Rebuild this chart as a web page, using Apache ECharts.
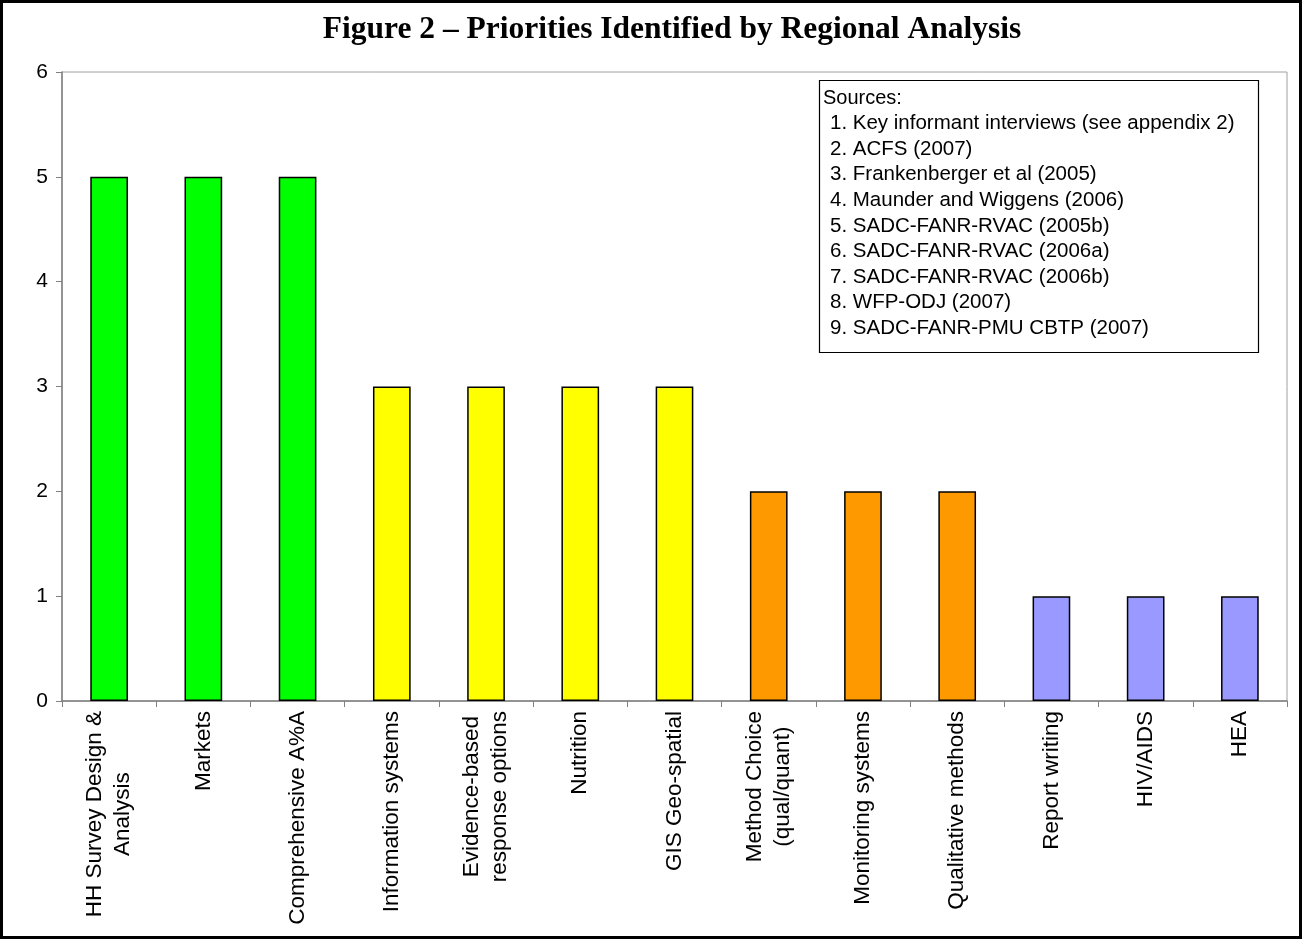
<!DOCTYPE html>
<html>
<head>
<meta charset="utf-8">
<script src="https://cdn.jsdelivr.net/npm/echarts@6/dist/echarts.min.js"></script>
<style>
  html, body { margin: 0; padding: 0; background: #fff; }
  #chart { width: 1302px; height: 939px; }
</style>
</head>
<body>
<div id="chart"></div>
<script>
// Priority topics and how many sources named each one
const categories = [
  'HH Survey Design &\nAnalysis',
  'Markets',
  'Comprehensive A%A',
  'Information systems',
  'Evidence-based\nresponse options',
  'Nutrition',
  'GIS Geo-spatial',
  'Method Choice\n(qual/quant)',
  'Monitoring systems',
  'Qualitative methods',
  'Report writing',
  'HIV/AIDS',
  'HEA'
];
const counts = [5, 5, 5, 3, 3, 3, 3, 2, 2, 2, 1, 1, 1];

// Fill colour per bar (priority band)
const barColors = [
  '#00ff00', '#00ff00', '#00ff00',
  '#ffff00', '#ffff00', '#ffff00', '#ffff00',
  '#ff9900', '#ff9900', '#ff9900',
  '#9999ff', '#9999ff', '#9999ff'
];

const yTicks = [0, 1, 2, 3, 4, 5, 6];

const sourcesTitle = 'Sources:';
const sources = [
  '1. Key informant interviews (see appendix 2)',
  '2. ACFS (2007)',
  '3. Frankenberger et al (2005)',
  '4. Maunder and Wiggens (2006)',
  '5. SADC-FANR-RVAC (2005b)',
  '6. SADC-FANR-RVAC (2006a)',
  '7. SADC-FANR-RVAC (2006b)',
  '8. WFP-ODJ (2007)',
  '9. SADC-FANR-PMU CBTP (2007)'
];

const sansFont = '"Liberation Sans", Arial, sans-serif';
const chart = echarts.init(document.getElementById('chart'), null, { renderer: 'canvas' });

const legendLines = [{
  type: 'text', x: 823, y: 98,
  style: { text: sourcesTitle, font: '20px ' + sansFont, fill: '#000', verticalAlign: 'middle' }
}].concat(sources.map((s, i) => ({
  type: 'text', x: 830, y: 123.5 + i * 25.6,
  style: { text: s, font: '20.5px ' + sansFont, fill: '#000', verticalAlign: 'middle' }
})));

chart.setOption({
  backgroundColor: '#fff',
  animation: false,
  title: {
    text: 'Figure 2 \u2013 Priorities Identified by Regional Analysis',
    left: 667, top: 9, textAlign: 'center',
    textStyle: { fontFamily: '"Liberation Serif", "Times New Roman", serif', fontWeight: 'bold', fontSize: 31.5, color: '#000' }
  },
  grid: {
    left: 62, right: 15, top: 72, bottom: 238,
    show: true, borderColor: '#a0a0a0', borderWidth: 1, backgroundColor: 'transparent'
  },
  xAxis: {
    type: 'category',
    data: categories,
    boundaryGap: true,
    axisLine: { lineStyle: { color: '#808080', width: 1.5 } },
    axisTick: { show: true, alignWithLabel: false, length: 6, lineStyle: { color: '#808080' } },
    axisLabel: {
      interval: 0, rotate: 90, margin: 10,
      color: '#000',
      fontFamily: sansFont, fontSize: 22.5,
      formatter: v => v.split('\n').map(s => '{c|' + s + '}').join('\n'),
      rich: { c: { align: 'center', fontFamily: sansFont, fontSize: 22.5, color: '#000', lineHeight: 28 } }
    },
    splitLine: { show: false }
  },
  yAxis: {
    type: 'value',
    min: yTicks[0], max: yTicks[yTicks.length - 1], interval: 1,
    axisLine: { show: true, lineStyle: { color: '#808080', width: 1.5 } },
    axisTick: { show: true, length: 6, lineStyle: { color: '#808080' } },
    axisLabel: { color: '#000', fontFamily: sansFont, fontSize: 21, margin: 14 },
    splitLine: { show: false }
  },
  series: [{
    type: 'bar',
    data: counts.map((v, i) => ({ value: v, itemStyle: { color: barColors[i] } })),
    barWidth: '40%',
    itemStyle: { borderColor: '#000', borderWidth: 1.5 }
  }],
  graphic: [
    {
      type: 'rect', silent: true, z: 100,
      shape: { x: 1.5, y: 1.5, width: 1299, height: 936 },
      style: { fill: 'none', stroke: '#000', lineWidth: 3 }
    },
    {
      type: 'rect', z: 90,
      shape: { x: 819.5, y: 80.5, width: 439, height: 272 },
      style: { fill: '#fff', stroke: '#000', lineWidth: 1.2 }
    }
  ].concat(legendLines.map(t => Object.assign({ z: 95 }, t)))
});
</script>
</body>
</html>
